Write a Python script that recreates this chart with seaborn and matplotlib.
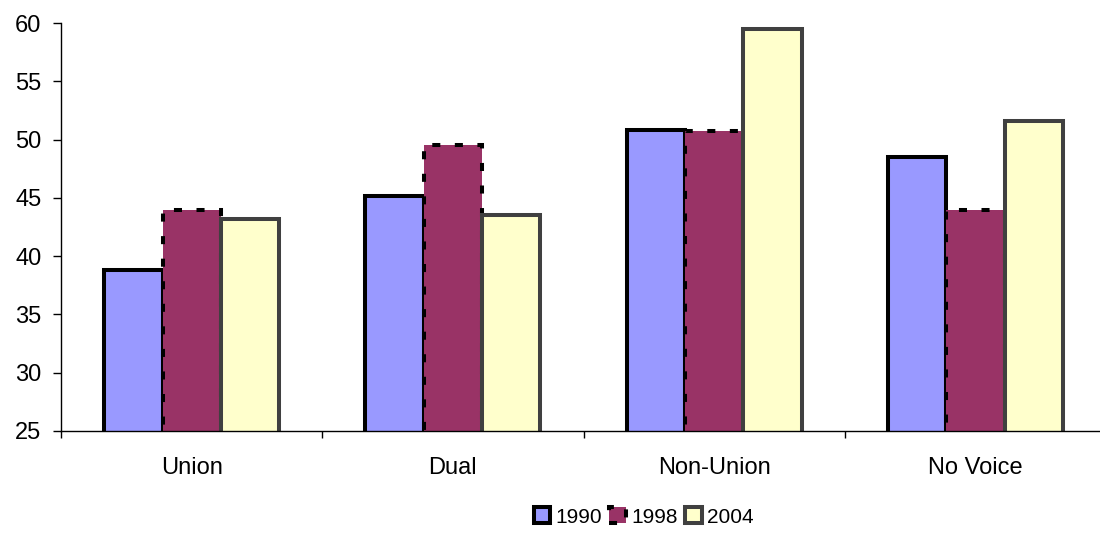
# Grupperet søjlediagram: 1990, 1998 og 2004 for hver type
import numpy as np
import pandas as pd
import matplotlib
matplotlib.use("Agg")
import matplotlib.pyplot as plt
import seaborn as sns

# Data
categories = ["Union", "Dual", "Non-Union", "No Voice"]
years = ["1990", "1998", "2004"]
values_1990 = [38.8, 45.2, 50.8, 48.5]
values_1998 = [44.0, 49.5, 50.7, 44.0]
values_2004 = [43.2, 43.5, 59.5, 51.6]

df = pd.DataFrame({
    "category": categories * 3,
    "year": [years[0]] * 4 + [years[1]] * 4 + [years[2]] * 4,
    "value": values_1990 + values_1998 + values_2004,
})

sns.set_style("white")
plt.rcParams["font.family"] = ["Liberation Sans", "DejaVu Sans"]

fig = plt.figure(figsize=(11, 5.33), dpi=100)
ax = fig.add_axes([0.0555, 0.1914, 0.95, 0.7654])

palette = {"1990": "#9999FF", "1998": "#993366", "2004": "#FFFFCC"}
sns.barplot(data=df, x="category", y="value", hue="year", order=categories,
            hue_order=years, palette=palette, width=0.67, gap=0,
            saturation=1, ax=ax, legend=False)

# Kantstil for hver serie
styles = [
    dict(edgecolor="black", linewidth=2.9, linestyle="-"),
    dict(edgecolor="black", linewidth=2.9, linestyle=(0, (2, 3.6))),
    dict(edgecolor="#404040", linewidth=2.9, linestyle="-"),
]
for cont, st in zip(ax.containers, styles):
    for bar in cont:
        bar.set_edgecolor(st["edgecolor"])
        bar.set_linewidth(st["linewidth"])
        bar.set_linestyle(st["linestyle"])
        bar.set_joinstyle("miter")

# Akser
ax.set_ylim(25, 60)
ax.set_yticks(np.arange(25, 61, 5))
ax.set_xlim(-0.5, len(categories) - 0.5)
ax.set_xlabel("")
ax.set_ylabel("")
ax.set_xticks(range(len(categories)))
ax.set_xticklabels(categories)
ax.set_xticks(np.arange(-0.5, len(categories), 1), minor=True)
ax.tick_params(axis="x", which="major", length=0, pad=19, labelsize=17,
               labelcolor="black")
ax.tick_params(axis="x", which="minor", length=5, width=1, color="black",
               direction="out", bottom=True)
ax.tick_params(axis="y", length=6, width=1, color="black", direction="out",
               left=True, pad=8, labelsize=17, labelcolor="black")
for side in ["top", "right"]:
    ax.spines[side].set_visible(False)
for side in ["left", "bottom"]:
    ax.spines[side].set_color("black")
    ax.spines[side].set_linewidth(1)

# Forklaring nederst
handles = [cont[0] for cont in ax.containers]
fig.legend(handles, years, loc="center", bbox_to_anchor=(0.585, 0.03),
           ncol=3, frameon=False, fontsize=15, handlelength=0.8,
           handleheight=0.8, handletextpad=0.25, columnspacing=0.35,
           borderaxespad=0, labelcolor="black")

fig.savefig("out.png", dpi=100)
